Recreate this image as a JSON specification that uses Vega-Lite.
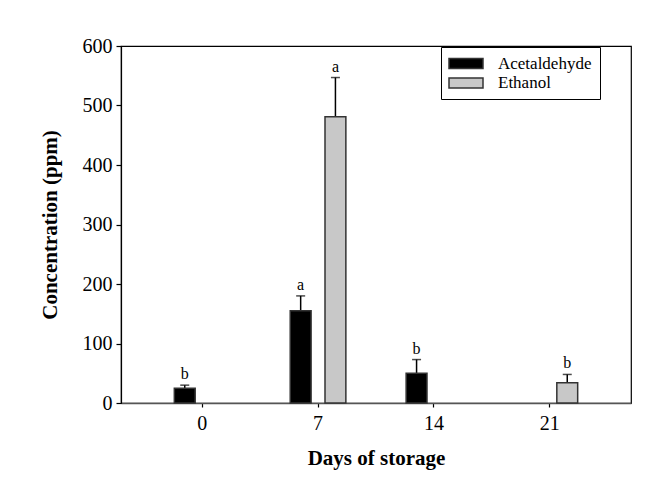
{
  "$schema": "https://vega.github.io/schema/vega-lite/v6.json",
  "width": 510,
  "height": 357,
  "autosize": "none",
  "padding": {"left": 121, "top": 46, "right": 23, "bottom": 97},
  "background": "white",
  "config": {
    "font": "Liberation Serif",
    "view": {"stroke": "black", "strokeWidth": 1.2},
    "axis": {
      "labelFont": "Liberation Serif",
      "titleFont": "Liberation Serif",
      "labelColor": "black",
      "titleColor": "black",
      "labelFontSize": 20,
      "titleFontSize": 21,
      "titleFontWeight": "bold",
      "grid": false,
      "tickColor": "black",
      "domainColor": "black"
    },
    "legend": {
      "orient": "none",
      "legendX": 320,
      "legendY": 1,
      "strokeColor": "black",
      "fillColor": "white",
      "padding": 8,
      "labelFont": "Liberation Serif",
      "labelFontSize": 17,
      "labelColor": "black",
      "symbolType": "M-3.4,-1H3.4V1H-3.4Z",
      "symbolSize": 100,
      "symbolStrokeColor": "#333",
      "symbolStrokeWidth": 1.5,
      "symbolOpacity": 1,
      "symbolOffset": 8.5,
      "labelOffset": 23.5,
      "rowPadding": 1.5
    }
  },
  "data": {
    "values": [
      {"day": 0, "series": "Acetaldehyde", "value": 25, "upper": 30, "letter": "b"},
      {"day": 7, "series": "Acetaldehyde", "value": 155, "upper": 180, "letter": "a"},
      {"day": 7, "series": "Ethanol", "value": 481, "upper": 547, "letter": "a"},
      {"day": 14, "series": "Acetaldehyde", "value": 50, "upper": 73, "letter": "b"},
      {"day": 21, "series": "Ethanol", "value": 34, "upper": 48, "letter": "b"}
    ]
  },
  "encoding": {
    "x": {
      "field": "day",
      "type": "ordinal",
      "scale": {"domain": [0, 7, 14, 21], "paddingInner": 0.4, "paddingOuter": 0.4},
      "axis": {
        "title": "Days of storage",
        "labelAngle": 0,
        "domainColor": "#555",
        "domainWidth": 1.5,
        "tickSize": 4,
        "tickWidth": 1.2,
        "labelPadding": 6,
        "titlePadding": 14
      }
    },
    "xOffset": {
      "field": "series",
      "scale": {"domain": ["Acetaldehyde", "Ethanol"], "paddingInner": 0.4, "paddingOuter": 0.2}
    }
  },
  "layer": [
    {
      "mark": {"type": "rule", "color": "black", "strokeWidth": 1.5},
      "encoding": {
        "y": {"field": "value", "type": "quantitative"},
        "y2": {"field": "upper"}
      }
    },
    {
      "mark": {"type": "tick", "color": "black", "size": 9, "thickness": 1.5},
      "encoding": {
        "y": {"field": "upper", "type": "quantitative"}
      }
    },
    {
      "mark": {"type": "bar", "stroke": "#333", "strokeWidth": 1.5},
      "encoding": {
        "y": {
          "field": "value",
          "type": "quantitative",
          "scale": {"domain": [0, 600], "nice": false},
          "axis": {
            "title": "Concentration (ppm)",
            "values": [0, 100, 200, 300, 400, 500, 600],
            "tickSize": 5,
            "tickWidth": 1.2,
            "domainWidth": 1.2,
            "labelPadding": 4,
            "titlePadding": 22
          }
        },
        "color": {
          "field": "series",
          "type": "nominal",
          "scale": {"domain": ["Acetaldehyde", "Ethanol"], "range": ["black", "#c8c8c8"]},
          "legend": {"title": null}
        }
      }
    },
    {
      "mark": {"type": "text", "baseline": "bottom", "dy": -3, "fontSize": 16, "font": "Liberation Serif", "color": "black"},
      "encoding": {
        "y": {"field": "upper", "type": "quantitative"},
        "text": {"field": "letter"}
      }
    }
  ]
}
